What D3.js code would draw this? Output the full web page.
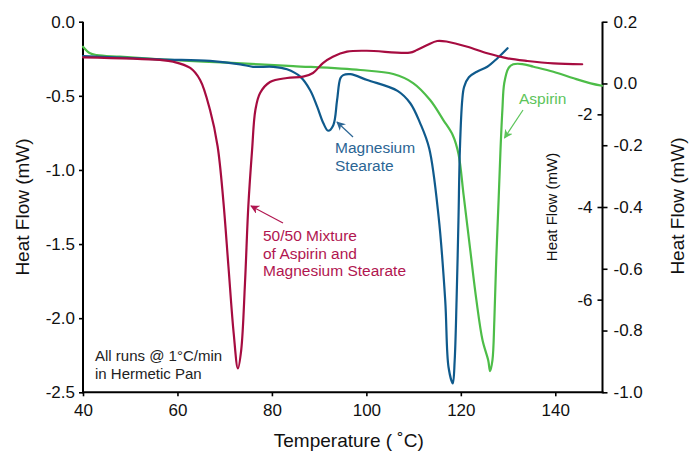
<!DOCTYPE html>
<html>
<head>
<meta charset="utf-8">
<script src="https://cdn.jsdelivr.net/npm/d3@7"></script>
<style>
  html, body { margin: 0; padding: 0; background: #fff; }
  svg { display: block; font-family: "Liberation Sans", Arial, sans-serif; }
</style>
</head>
<body>
<svg id="chart" width="689" height="453"></svg>
<script>
// ---- Data ----
// 50/50 Mixture of Aspirin and Magnesium Stearate (left axis, mW)
const tempMix = [40, 56.3, 59.1, 62.7, 64.8, 66.9, 68.5, 69.7, 70.8, 71.9, 72.8, 73.5, 74.3, 75.0, 75.8, 76.5, 77.5, 79.6, 83.2, 86.6, 88.7, 90.8, 92.9, 95.9, 100.1, 109.2, 110.7, 112.9, 115.0, 117.2, 121.4, 125.6, 129.9, 134.1, 139.6, 145.7];
const flowMix = [-0.240, -0.258, -0.270, -0.312, -0.393, -0.596, -0.840, -1.203, -1.653, -2.100, -2.339, -2.215, -1.763, -1.248, -0.866, -0.596, -0.481, -0.407, -0.380, -0.371, -0.346, -0.279, -0.236, -0.202, -0.196, -0.209, -0.191, -0.157, -0.130, -0.135, -0.169, -0.213, -0.247, -0.265, -0.281, -0.287];

// Magnesium Stearate (outer right axis, mW)
const tempMg = [40, 56.3, 66.9, 73.3, 76.0, 80.3, 83.2, 86.0, 88.1, 89.6, 90.9, 91.9, 93.0, 93.8, 94.5, 95.1, 96.6, 100.2, 106.6, 109.3, 111.4, 113.3, 115.3, 116.7, 117.4, 118.3, 118.7, 119.1, 119.5, 119.8, 120.3, 120.7, 121.7, 123.4, 125.6, 127.7, 129.9];
const flowMg = [0.089, 0.078, 0.073, 0.062, 0.054, 0.054, 0.046, 0.022, -0.022, -0.076, -0.129, -0.153, -0.135, -0.054, 0.017, 0.027, 0.030, 0.011, -0.024, -0.064, -0.129, -0.210, -0.432, -0.703, -0.919, -0.971, -0.897, -0.703, -0.443, -0.216, -0.054, -0.011, 0.020, 0.038, 0.054, 0.081, 0.114];

// Aspirin (inner right axis, mW)
const tempAsp = [40, 41.5, 42.9, 47.8, 56.3, 70.5, 84.5, 98.7, 105.7, 109.9, 113.5, 116.3, 118.3, 119.5, 120.6, 122.0, 123.3, 124.6, 125.8, 126.2, 126.7, 127.1, 127.5, 128.0, 128.4, 128.8, 129.2, 130.1, 131.1, 133.0, 135.4, 139.6, 143.9, 147.5, 149.9];
const flowAsp = [-0.540, -0.683, -0.719, -0.756, -0.812, -0.885, -0.957, -1.043, -1.130, -1.324, -1.691, -2.123, -2.450, -2.850, -3.750, -4.931, -6.011, -6.875, -7.307, -7.544, -7.307, -6.443, -5.147, -3.851, -2.771, -1.907, -1.324, -1.000, -0.920, -0.914, -0.972, -1.080, -1.222, -1.330, -1.382];

// Tick values / labels
const xTicks = [40, 60, 80, 100, 120, 140];
const leftTicks = [0.0, -0.5, -1.0, -1.5, -2.0, -2.5];
const outerRightTicks = [0.2, 0.0, -0.2, -0.4, -0.6, -0.8, -1.0];
const innerRightTicks = [-2, -4, -6];

const xTitle = "Temperature ( \u02DAC)";
const yTitle = "Heat Flow (mW)";
const noteLines = ["All runs @ 1\u00B0C/min", "in Hermetic Pan"];
const mixLabel = ["50/50 Mixture", "of Aspirin and", "Magnesium Stearate"];
const mgLabel = ["Magnesium", "Stearate"];
const aspLabel = ["Aspirin"];

// ---- Colours ----
const cMix = "#A60C40", cMg = "#0F5A8C", cAsp = "#4DBD48";
const tMix = "#B11650", tMg = "#2B6594", tAsp = "#5CC45A";

// ---- Layout ----
const L = 83, R = 602.5, T = 21.7, B = 392.3;
const svg = d3.select("#chart");
svg.append("rect").attr("width", 689).attr("height", 453).attr("fill", "#fff");

const x = d3.scaleLinear().domain([40, 150]).range([L, R]);
const yL = d3.scaleLinear().domain([-2.5, 0]).range([B, T]);
const yO = d3.scaleLinear().domain([-1.0, 0.2]).range([B, T]);
const yI = d3.scaleLinear().domain([-8, 0]).range([B, T]);

const fmt1 = d => (d < 0 ? "-" : "") + Math.abs(d).toFixed(1);
const fmt0 = d => (d < 0 ? "-" : "") + Math.abs(d).toFixed(0);

function styleAxis(g, fs) {
  g.selectAll(".domain").remove();
  g.selectAll(".tick line").attr("stroke", "#000").attr("stroke-width", 1.6);
  g.selectAll(".tick text").attr("fill", "#111").attr("font-size", fs)
    .attr("font-family", "Liberation Sans, Arial, sans-serif");
}

// bottom axis
const gx = svg.append("g").attr("transform", `translate(0,${B})`)
  .call(d3.axisBottom(x).tickValues(xTicks).tickSize(4).tickPadding(8).tickFormat(d3.format("d")));
styleAxis(gx, 17);

// left axis
const gl = svg.append("g").attr("transform", `translate(${L},0)`)
  .call(d3.axisLeft(yL).tickValues(leftTicks).tickSize(4).tickPadding(4).tickFormat(fmt1));
styleAxis(gl, 17);

// outer right axis
const go = svg.append("g").attr("transform", `translate(${R},0)`)
  .call(d3.axisRight(yO).tickValues(outerRightTicks).tickSize(5).tickPadding(6).tickFormat(fmt1));
styleAxis(go, 17);

// inner right axis (ticks pointing inward)
const gi = svg.append("g").attr("transform", `translate(${R},0)`)
  .call(d3.axisLeft(yI).tickValues(innerRightTicks).tickSize(5).tickPadding(5).tickFormat(fmt0));
styleAxis(gi, 17);

// axis lines
const axisLines = svg.append("g").attr("stroke", "#000").attr("stroke-width", 2).attr("fill", "none");
axisLines.append("line").attr("x1", L).attr("x2", L).attr("y1", T).attr("y2", B + 1);
axisLines.append("line").attr("x1", L - 1).attr("x2", R + 1).attr("y1", B).attr("y2", B);
axisLines.append("line").attr("x1", R).attr("x2", R).attr("y1", T).attr("y2", B + 1);

// axis titles
svg.append("text").attr("x", (L + R) / 2 + 6).attr("y", 447).attr("text-anchor", "middle")
  .attr("font-size", 19).attr("fill", "#111").text(xTitle);
svg.append("text").attr("transform", `translate(22,207) rotate(-90)`).attr("text-anchor", "middle")
  .attr("dominant-baseline", "central").attr("font-size", 19).attr("fill", "#111").text(yTitle);
svg.append("text").attr("transform", `translate(677,206) rotate(-90)`).attr("text-anchor", "middle")
  .attr("dominant-baseline", "central").attr("font-size", 19).attr("fill", "#111").text(yTitle);
svg.append("text").attr("transform", `translate(551,207) rotate(-90)`).attr("text-anchor", "middle")
  .attr("dominant-baseline", "central").attr("font-size", 15).attr("fill", "#111").text(yTitle);

// curves
function drawCurve(ts, vs, yScale, color) {
  const pts = ts.map((t, i) => [t, vs[i]]);
  svg.append("path").datum(pts)
    .attr("d", d3.line().x(d => x(d[0])).y(d => yScale(d[1])).curve(d3.curveCatmullRom.alpha(0.5)))
    .attr("fill", "none").attr("stroke", color).attr("stroke-width", 2.2)
    .attr("stroke-linejoin", "round").attr("stroke-linecap", "round");
}
drawCurve(tempAsp, flowAsp, yI, cAsp);
drawCurve(tempMg, flowMg, yO, cMg);
drawCurve(tempMix, flowMix, yL, cMix);

// annotations
const defs = svg.append("defs");
function marker(id, color) {
  defs.append("marker").attr("id", id).attr("viewBox", "0 0 10 10").attr("refX", 9).attr("refY", 5)
    .attr("markerWidth", 9).attr("markerHeight", 9).attr("orient", "auto-start-reverse")
    .attr("markerUnits", "userSpaceOnUse")
    .append("path").attr("d", "M0,0 L10,5 L0,10 L3,5 Z").attr("fill", color);
}
marker("amix", tMix); marker("amg", tMg); marker("aasp", tAsp);

function arrow(x1, y1, x2, y2, color, id) {
  svg.append("line").attr("x1", x1).attr("y1", y1).attr("x2", x2).attr("y2", y2)
    .attr("stroke", color).attr("stroke-width", 1.2).attr("marker-end", `url(#${id})`);
}
function label(lines, x0, y0, color, fs) {
  const t = svg.append("text").attr("font-size", fs).attr("fill", color);
  lines.forEach((s, i) => t.append("tspan").attr("x", x0).attr("y", y0 + i * 17.5).text(s));
}

label(noteLines, 95, 361, "#222", 15);
label(mixLabel, 263, 241, tMix, 15.5);
arrow(283, 223, 251, 206, tMix, "amix");
label(mgLabel, 335, 153, tMg, 15.5);
arrow(353, 137, 337, 122, tMg, "amg");
label(aspLabel, 519, 104, tAsp, 15.5);
arrow(523, 110, 504.5, 138, tAsp, "aasp");
</script>
</body>
</html>
